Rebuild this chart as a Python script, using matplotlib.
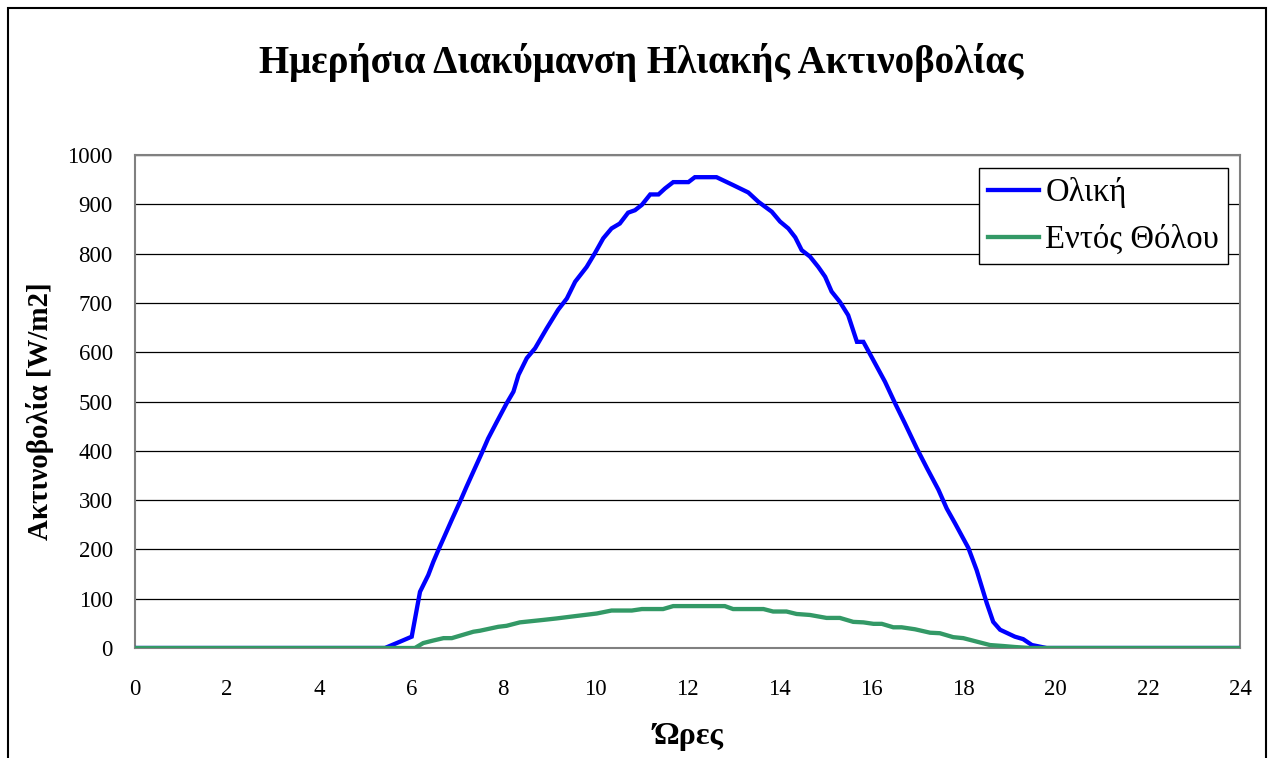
import matplotlib.pyplot as plt
from matplotlib.patches import Rectangle

plt.rcParams['font.family'] = ['Liberation Serif', 'DejaVu Serif']

# Ολική (hours, W/m2)
total_hours = [0, 5.43, 5.76, 6.01, 6.19, 6.37, 6.48, 6.59, 6.70, 6.88, 7.06,
               7.20, 7.35, 7.53, 7.67, 7.86, 8.07, 8.22, 8.33, 8.51, 8.69,
               8.94, 9.19, 9.38, 9.56, 9.81, 9.99, 10.17, 10.35, 10.53, 10.71,
               10.86, 11.01, 11.19, 11.37, 11.51, 11.69, 12.02, 12.16, 12.63,
               12.99, 13.32, 13.54, 13.83, 14.01, 14.19, 14.34, 14.48, 14.66,
               14.84, 14.99, 15.13, 15.31, 15.49, 15.68, 15.82, 16.00, 16.29,
               16.51, 16.72, 16.98, 17.20, 17.45, 17.63, 17.81, 18.10, 18.28,
               18.50, 18.64, 18.79, 19.11, 19.29, 19.48, 19.80, 24]
total_vals = [0, 0, 13, 23, 114, 148, 175, 199, 222, 260, 297,
              327, 358, 395, 425, 459, 496, 520, 554, 588, 608,
              648, 686, 709, 743, 773, 801, 831, 851, 861, 883,
              888, 899, 920, 920, 932, 945, 945, 955, 955,
              939, 924, 905, 885, 865, 851, 833, 807, 794,
              773, 753, 723, 702, 675, 621, 621, 590, 540,
              496, 456, 405, 365, 321, 283, 253, 203, 158,
              91, 53, 37, 23, 18, 6, 0, 0]

# Εντός Θόλου (hours, W/m2)
dome_hours = [0, 6.08, 6.26, 6.47, 6.70, 6.88, 7.35, 7.49, 7.89, 8.07, 8.36,
              8.87, 9.16, 9.59, 10.03, 10.35, 10.79, 11.01, 11.47, 11.69,
              12.81, 12.99, 13.65, 13.86, 14.15, 14.37, 14.66, 15.02, 15.31,
              15.60, 15.82, 16.04, 16.22, 16.47, 16.65, 16.94, 17.27, 17.48,
              17.77, 17.99, 18.28, 18.57, 18.86, 19.11, 19.44, 24]
dome_vals = [0, 0, 10, 15, 20, 20, 33, 35, 43, 45, 52,
             57, 60, 65, 70, 76, 76, 79, 79, 85,
             85, 79, 79, 74, 74, 69, 67, 61, 61,
             53, 52, 49, 49, 42, 42, 38, 31, 30,
             22, 20, 13, 6, 4, 2, 0, 0]

x_ticks = list(range(0, 25, 2))
y_ticks = list(range(0, 1001, 100))

fig = plt.figure(figsize=(12.7, 7.58), dpi=100)
ax = fig.add_axes([135/1270, 1 - 648/758, 1105/1270, 493/758])

ax.plot(total_hours, total_vals, color='#0000FF', lw=3.1, label='Ολική',
        solid_joinstyle='miter', zorder=3)
ax.plot(dome_hours, dome_vals, color='#339966', lw=3.1, label='Εντός Θόλου',
        solid_joinstyle='miter', zorder=3)

ax.set_xlim(0, 24)
ax.set_ylim(0, 1000)
ax.set_xticks(x_ticks)
ax.set_yticks(y_ticks)
ax.tick_params(length=0, labelsize=16.5)
ax.tick_params(axis='x', pad=22)
ax.tick_params(axis='y', pad=16)
ax.yaxis.grid(True, color='#000000', lw=0.9)
ax.set_axisbelow(True)
for s in ax.spines.values():
    s.set_color('#808080')
    s.set_linewidth(1.5)

fig.text(0.505, 0.918, 'Ημερήσια Διακύμανση Ηλιακής Ακτινοβολίας',
         ha='center', va='center', fontsize=28, fontweight='bold')
fig.text(0.0315, 0.458, 'Ακτινοβολία [W/m2]', rotation=90,
         ha='center', va='center', fontsize=20.8, fontweight='bold')
fig.text(0.542, 0.028, 'Ώρες', ha='center', va='center',
         fontsize=23, fontweight='bold')

leg = ax.legend(loc='upper left', bbox_to_anchor=(979/1270, 1 - 168/758),
                bbox_transform=fig.transFigure, borderaxespad=0,
                fontsize=23.5, fancybox=False, edgecolor='#000000',
                framealpha=1, handlelength=1.55, handletextpad=0.2,
                labelspacing=0.5, borderpad=0.28)
leg.get_frame().set_linewidth(1.0)

fig.patches.append(Rectangle((8/1270, -0.1), 1258/1270, 1.1 - 8/758,
                             transform=fig.transFigure, fill=False,
                             edgecolor='#000000', lw=1.5))

fig.savefig('out.png', dpi=100)
